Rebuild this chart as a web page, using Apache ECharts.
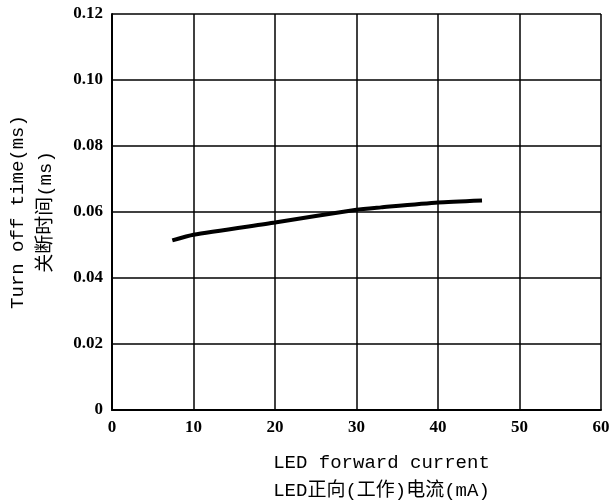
<!DOCTYPE html>
<html>
<head>
<meta charset="utf-8">
<script src="https://cdn.jsdelivr.net/npm/echarts@6/dist/echarts.min.js"></script>
<style>html,body{margin:0;padding:0;background:#fff}#c{width:613px;height:502px}</style>
</head>
<body>
<div id="c"></div>
<script>
const currentMA = [7.4, 10, 20, 30, 33, 40, 45.4];
const turnOffMs = [0.0514, 0.0531, 0.0568, 0.0607, 0.0614, 0.0629, 0.0635];
const xTickLabels = ['0', '10', '20', '30', '40', '50', '60'];
const yTickLabels = ['0', '0.02', '0.04', '0.06', '0.08', '0.10', '0.12'];
const xName = 'LED forward current\nLED正向(工作)电流(mA)';
const yName = 'Turn off time(ms)\n关断时间(ms)';

const chart = echarts.init(document.getElementById('c'), null, {renderer: 'canvas'});
const labelFont = {color: '#000', fontFamily: 'Liberation Serif', fontWeight: 'bold', fontSize: 17};
const nameFont = {color: '#000', fontFamily: 'Liberation Mono, Noto Sans CJK SC', fontSize: 19, lineHeight: 28};
chart.setOption({
  animation: false,
  backgroundColor: '#fff',
  grid: {left: 112, right: 12, top: 14, bottom: 92, containLabel: false, outerBoundsMode: 'none'},
  xAxis: {
    type: 'value', min: 0, max: 60, interval: 10,
    name: xName, nameLocation: 'middle', nameGap: 39,
    nameTextStyle: Object.assign({padding: [0, 0, 0, 50]}, nameFont),
    axisLine: {show: true, lineStyle: {color: '#000', width: 2}},
    axisTick: {show: false},
    axisLabel: Object.assign({margin: 9, formatter: (v) => xTickLabels[Math.round(v / 10)]}, labelFont),
    splitLine: {show: true, lineStyle: {color: '#000', width: 1.5}}
  },
  yAxis: {
    type: 'value', min: 0, max: 0.12, interval: 0.02,
    name: yName, nameLocation: 'middle', nameGap: 52, nameRotate: 90,
    nameTextStyle: nameFont,
    axisLine: {show: true, lineStyle: {color: '#000', width: 2}},
    axisTick: {show: false},
    axisLabel: Object.assign({margin: 9, formatter: (v) => yTickLabels[Math.round(v / 0.02)]}, labelFont),
    splitLine: {show: true, lineStyle: {color: '#000', width: 1.5}}
  },
  series: [{
    type: 'line',
    data: currentMA.map((x, i) => [x, turnOffMs[i]]),
    showSymbol: false,
    smooth: 0.2,
    lineStyle: {color: '#000', width: 4}
  }]
});
</script>
</body>
</html>
